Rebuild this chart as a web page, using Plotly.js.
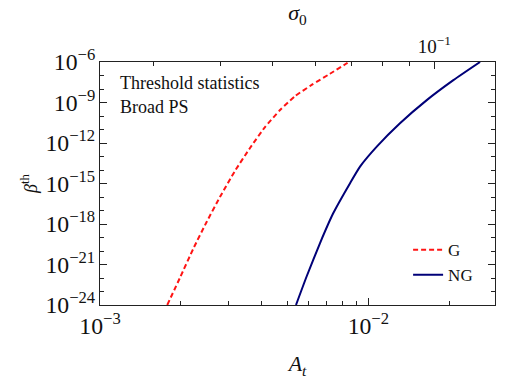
<!DOCTYPE html>
<html>
<head>
<meta charset="utf-8">
<script src="https://cdn.plot.ly/plotly-3.0.1.min.js"></script>
<style>
  html, body { margin: 0; padding: 0; background: #fff; }
  #chart { width: 507px; height: 380px; }
</style>
</head>
<body>
<div id="chart"></div>
<script>
// Gaussian (G) threshold curve
var gAt   = [0.001781, 0.001987, 0.002227, 0.002499, 0.002802, 0.003185, 0.003623, 0.004121, 0.004688, 0.005331, 0.006169, 0.007197, 0.008258, 0.008694];
var gBeta = [1e-24, 1.07e-22, 1.49e-20, 1.47e-18, 1.03e-16, 8.6e-15, 4.3e-13, 1.52e-11, 2.75e-10, 2.95e-9, 2.09e-8, 1.35e-7, 7.4e-7, 1.35e-6];

// non-Gaussian (NG) curve
var ngAt   = [0.005375, 0.005893, 0.006607, 0.007405, 0.008548, 0.009311, 0.01075, 0.01312, 0.01651, 0.02074, 0.02608];
var ngBeta = [1e-24, 1.35e-22, 3.9e-20, 6.5e-18, 1.06e-15, 1.78e-14, 5.4e-13, 2.9e-11, 1.5e-9, 4.5e-8, 1.0e-6];

// top axis: sigma_0, with A_t = k * sigma0^2
var sigmaK = 1.762;
var sigmaMajor = [0.1];
var sigmaMajorText = ['10<sup>\u22121</sup>'];
var sigmaMinor = [0.03, 0.04, 0.05, 0.06, 0.07, 0.08, 0.09];

// minor tick positions
var atMinor = [0.002, 0.003, 0.004, 0.005, 0.006, 0.007, 0.008, 0.009, 0.02, 0.03];
var betaMinor = [1e-23, 1e-22, 1e-20, 1e-19, 1e-17, 1e-16, 1e-14, 1e-13, 1e-11, 1e-10, 1e-8, 1e-7];

function toAt(s) { return sigmaK * s * s; }

var serif = 'Liberation Serif, DejaVu Serif, serif';
var xRange = [-3, -1.528];
var yRange = [-24, -6];

var traces = [
  {
    x: gAt, y: gBeta, mode: 'lines', name: 'G',
    line: { color: 'rgb(255,20,20)', width: 2, dash: '5px,3px', shape: 'spline', smoothing: 0.5 }
  },
  {
    x: ngAt, y: ngBeta, mode: 'lines', name: 'NG',
    line: { color: 'rgb(0,0,120)', width: 2, shape: 'spline', smoothing: 0.5 }
  },
  // empty traces so the extra tick axes are drawn
  { x: [], y: [], xaxis: 'x2', yaxis: 'y', showlegend: false, hoverinfo: 'skip' },
  { x: [], y: [], xaxis: 'x3', yaxis: 'y', showlegend: false, hoverinfo: 'skip' },
  { x: [], y: [], xaxis: 'x4', yaxis: 'y', showlegend: false, hoverinfo: 'skip' },
  { x: [], y: [], xaxis: 'x', yaxis: 'y2', showlegend: false, hoverinfo: 'skip' }
];

var tickCol = '#222';

var layout = {
  width: 507, height: 380,
  margin: { l: 100, r: 12, t: 62, b: 75 },
  paper_bgcolor: '#fff', plot_bgcolor: '#fff',
  font: { family: serif, size: 20, color: '#111' },
  showlegend: true,
  legend: {
    x: 0.78, y: 0.3, xanchor: 'left', yanchor: 'top',
    bgcolor: 'rgba(0,0,0,0)', itemwidth: 30, tracegroupgap: 0,
    font: { family: serif, size: 17, color: '#111' }
  },
  xaxis: {
    type: 'log', range: xRange,
    showgrid: false, zeroline: false,
    showline: true, linecolor: tickCol, linewidth: 1, mirror: false,
    ticks: 'inside', ticklen: 7, tickcolor: tickCol,
    dtick: 1, exponentformat: 'power',
    tickfont: { family: serif, size: 19 },
    title: { text: '<i>A</i><sub><i>t</i></sub>', font: { family: serif, size: 22 }, standoff: 18 }
  },
  xaxis2: {
    type: 'log', range: xRange, overlaying: 'x', side: 'top', anchor: 'y',
    showgrid: false, zeroline: false,
    showline: true, linecolor: tickCol, linewidth: 1,
    ticks: 'inside', ticklen: 7, tickcolor: tickCol,
    tickmode: 'array', tickvals: sigmaMajor.map(toAt), ticktext: sigmaMajorText,
    tickfont: { family: serif, size: 19 },
    title: { text: '<i>\u03c3</i><sub>0</sub>', font: { family: serif, size: 22 }, standoff: 12 }
  },
  xaxis3: {
    type: 'log', range: xRange, overlaying: 'x', side: 'top', anchor: 'y',
    showgrid: false, zeroline: false, showline: false,
    ticks: 'inside', ticklen: 4, tickcolor: tickCol, showticklabels: false,
    tickmode: 'array', tickvals: sigmaMinor.map(toAt)
  },
  xaxis4: {
    type: 'log', range: xRange, overlaying: 'x', side: 'bottom', anchor: 'y',
    showgrid: false, zeroline: false, showline: false,
    ticks: 'inside', ticklen: 4, tickcolor: tickCol, showticklabels: false,
    tickmode: 'array', tickvals: atMinor
  },
  yaxis: {
    type: 'log', range: yRange,
    showgrid: false, zeroline: false,
    showline: true, linecolor: tickCol, linewidth: 1, mirror: 'ticks',
    ticks: 'inside', ticklen: 7, tickcolor: tickCol,
    dtick: 3, tick0: 0, exponentformat: 'power',
    tickfont: { family: serif, size: 19 },
    title: { text: '<i>\u03b2</i><sup>th</sup>', font: { family: serif, size: 18 }, standoff: 3 }
  },
  yaxis2: {
    type: 'log', range: yRange, overlaying: 'y', side: 'left', anchor: 'x',
    showgrid: false, zeroline: false, showline: false, mirror: 'ticks',
    ticks: 'inside', ticklen: 4, tickcolor: tickCol, showticklabels: false,
    tickmode: 'array', tickvals: betaMinor
  },
  annotations: [
    { xref: 'paper', yref: 'paper', x: 0.045, y: 0.915, xanchor: 'left', yanchor: 'middle',
      showarrow: false, text: 'Threshold statistics', font: { family: serif, size: 18, color: '#111' } },
    { xref: 'paper', yref: 'paper', x: 0.045, y: 0.815, xanchor: 'left', yanchor: 'middle',
      showarrow: false, text: 'Broad PS', font: { family: serif, size: 18, color: '#111' } }
  ]
};

Plotly.newPlot('chart', traces, layout, { displayModeBar: false, staticPlot: true });
</script>
</body>
</html>
